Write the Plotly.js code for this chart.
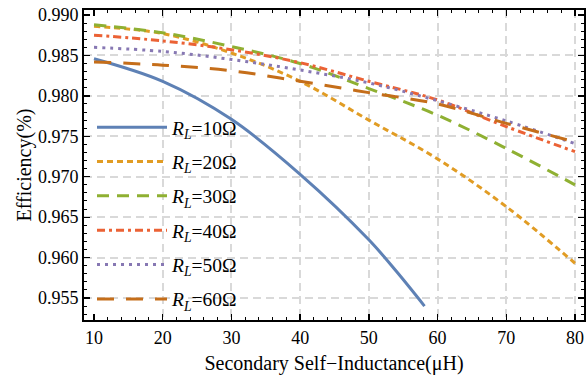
<!DOCTYPE html>
<html>
<head>
<meta charset="utf-8">
<script src="https://cdn.plot.ly/plotly-3.0.1.min.js"></script>
<style>body{margin:0;padding:0;background:#fff;}</style>
</head>
<body>
<div id="chart" style="width:586px;height:382px;"></div>
<script>
// Data
const inductance = [10, 20, 30, 40, 50, 60, 70, 80];
const inductance10 = [10, 20, 30, 40, 50, 54, 58.1];
const eff10 = [0.9846, 0.9818, 0.9771, 0.9703, 0.9622, 0.9583, 0.9540];
const eff20 = [0.9886, 0.9877, 0.9853, 0.9818, 0.9770, 0.9722, 0.9663, 0.9593];
const eff30 = [0.9888, 0.9878, 0.9861, 0.9840, 0.9809, 0.9776, 0.9735, 0.9690];
const eff40 = [0.9875, 0.9868, 0.9857, 0.9841, 0.9818, 0.9795, 0.9762, 0.9731];
const eff50 = [0.9860, 0.9855, 0.9845, 0.9832, 0.9816, 0.9794, 0.9769, 0.9741];
const eff60 = [0.9842, 0.9838, 0.9831, 0.9818, 0.9804, 0.9790, 0.9766, 0.9743];
const loadLabels = ['10', '20', '30', '40', '50', '60'];
const gridX = [20, 30, 40, 50, 60, 70, 80];
const gridY = [0.955, 0.960, 0.965, 0.970, 0.975, 0.980, 0.985];

const colors = ['#5E81B5', '#E19C24', '#8FB032', '#EB6235', '#8778B3', '#C56E1A'];
const dashes = ['solid', '6px,4px', '12px,8px', '8px,4px,3px,4px', '3px,5px', '17px,12px'];
const xsList = [inductance10, inductance, inductance, inductance, inductance, inductance];
const ysList = [eff10, eff20, eff30, eff40, eff50, eff60];

const traces = ysList.map((ys, i) => ({
  x: xsList[i], y: ys, type: 'scatter', mode: 'lines',
  line: {color: colors[i], width: 3, dash: dashes[i], shape: 'spline', smoothing: 1},
  name: '<i>R</i><sub><i>L</i></sub>=' + loadLabels[i] + 'Ω',
  legendgroup: 'g' + i
}));
traces.push({x: [null], y: [null], xaxis: 'x2', yaxis: 'y2', showlegend: false, hoverinfo: 'skip', mode: 'lines'});

const xr = [8.545, 81.31], yr = [0.95228, 0.99062];
const layout = {
  width: 586, height: 382,
  margin: {l: 84, r: 2, t: 10, b: 62},
  paper_bgcolor: 'white', plot_bgcolor: 'white',
  font: {family: 'Liberation Serif, Times New Roman, serif', size: 18, color: 'black'},
  showlegend: true,
  xaxis: {
    range: xr, tickmode: 'linear', tick0: 10, dtick: 10,
    ticks: 'inside', ticklen: 6, tickwidth: 1.3, tickcolor: 'black',
    mirror: 'allticks', showline: true, linecolor: 'black', linewidth: 2,
    showgrid: false, zeroline: false,
    minor: {tick0: 0, dtick: 2, ticks: 'inside', ticklen: 3, tickwidth: 1, tickcolor: 'black', showgrid: false},
    title: {text: 'Secondary Self\u2212Inductance(μH)', font: {size: 20}, standoff: 9}
  },
  yaxis: {
    range: yr, tickmode: 'linear', tick0: 0.955, dtick: 0.005, tickformat: '.3f',
    ticks: 'inside', ticklen: 6, tickwidth: 1.3, tickcolor: 'black',
    mirror: 'allticks', showline: true, linecolor: 'black', linewidth: 2,
    showgrid: false, zeroline: false,
    minor: {dtick: 0.001, ticks: 'inside', ticklen: 3, tickwidth: 1, tickcolor: 'black', showgrid: false},
    title: {text: 'Efficiency(%)', font: {size: 20}, standoff: 1}
  },
  xaxis2: {
    overlaying: 'x', range: xr, tickmode: 'array', tickvals: gridX,
    showticklabels: false, ticks: '', showline: false, zeroline: false,
    showgrid: true, gridcolor: '#d9d9d9', gridwidth: 2, griddash: '8px,5px'
  },
  yaxis2: {
    overlaying: 'y', range: yr, tickmode: 'array', tickvals: gridY,
    showticklabels: false, ticks: '', showline: false, zeroline: false,
    showgrid: true, gridcolor: '#d9d9d9', gridwidth: 2, griddash: '8px,5px'
  },
  legend: {
    x: 0.016, y: 0.684, xanchor: 'left', yanchor: 'top',
    bgcolor: 'rgba(0,0,0,0)', borderwidth: 0,
    itemwidth: 70, tracegroupgap: 6, traceorder: 'grouped',
    font: {size: 19.5}
  }
};
Plotly.newPlot('chart', traces, layout, {displayModeBar: false, staticPlot: true});
</script>
</body>
</html>
